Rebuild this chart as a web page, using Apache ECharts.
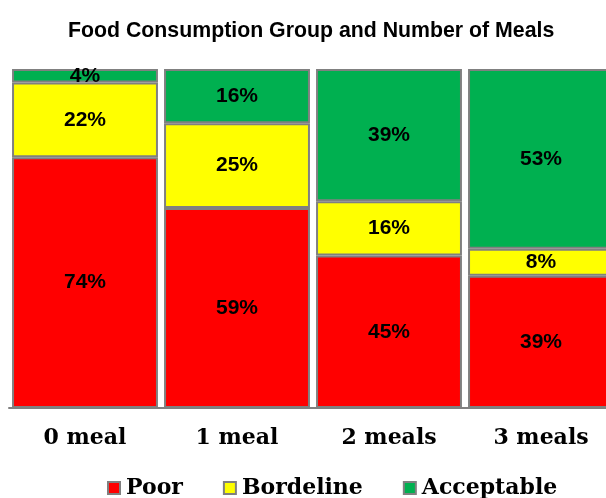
<!DOCTYPE html>
<html>
<head>
<meta charset="utf-8">
<script src="https://cdn.jsdelivr.net/npm/echarts@6/dist/echarts.min.js"></script>
<style>
  html, body { margin: 0; padding: 0; background: #fff; }
  #chart { width: 606px; height: 498px; }
</style>
</head>
<body>
<div id="chart"></div>
<script>
  // data
  const categories = ['0 meal', '1 meal', '2 meals', '3 meals']
  const poor = [74, 59, 45, 39]
  const bordeline = [22, 25, 16, 8]
  const acceptable = [4, 16, 39, 53]

  const chart = echarts.init(document.getElementById('chart'))

  const labelStyle = {
    show: true,
    position: 'inside',
    formatter: '{c}%',
    color: '#000',
    fontFamily: 'Liberation Sans, Arial, sans-serif',
    fontWeight: 'bold',
    fontSize: 21
  }

  const makeSeries = (name, data, color) => ({
    name,
    type: 'bar',
    stack: 'total',
    data,
    barCategoryGap: '4%',
    itemStyle: { color, borderColor: '#808080', borderWidth: 2 },
    label: labelStyle
  })

  const option = {
    animation: false,
    title: {
      text: 'Food Consumption Group and Number of Meals',
      left: 63,
      top: 16,
      textStyle: {
        fontFamily: 'Liberation Sans, Arial, sans-serif',
        fontWeight: 'bold',
        fontSize: 21.3,
        color: '#000'
      }
    },
    legend: {
      bottom: -6,
      left: 102,
      itemWidth: 12,
      itemHeight: 12,
      itemGap: 40,
      icon: 'rect',
      itemStyle: { borderColor: '#808080', borderWidth: 2 },
      textStyle: {
        fontFamily: 'DejaVu Serif, serif',
        fontWeight: 'bold',
        fontSize: 22,
        color: '#000',
        padding: [0, 0, 0, 1]
      },
      data: ['Poor', 'Bordeline', 'Acceptable']
    },
    grid: {
      left: 9,
      top: 69,
      width: 608,
      bottom: 90,
      outerBoundsMode: 'none'
    },
    xAxis: {
      type: 'category',
      data: categories,
      axisLine: { show: true, lineStyle: { color: '#808080', width: 2 } },
      axisTick: { show: false },
      axisLabel: {
        margin: 19,
        color: '#000',
        fontFamily: 'DejaVu Serif, serif',
        fontWeight: 'bold',
        fontSize: 22
      }
    },
    yAxis: {
      type: 'value',
      min: 0,
      max: 100,
      show: false
    },
    series: [
      makeSeries('Poor', poor, '#FF0000'),
      makeSeries('Bordeline', bordeline, '#FFFF00'),
      makeSeries('Acceptable', acceptable, '#00B050')
    ]
  }

  chart.setOption(option)
</script>
</body>
</html>
